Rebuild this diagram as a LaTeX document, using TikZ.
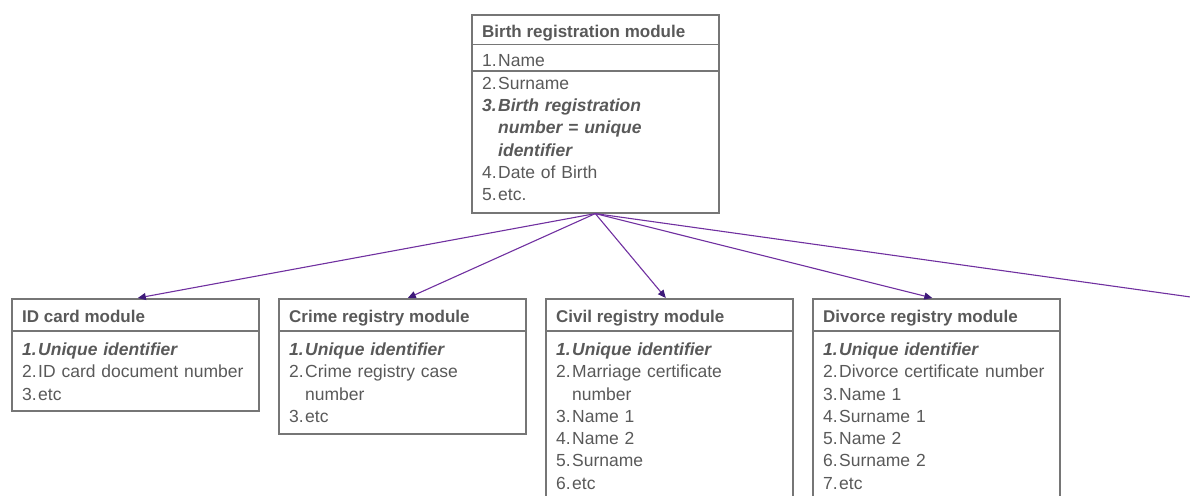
\documentclass[tikz,border=0pt]{standalone}
\usepackage{fontspec}
\setmainfont{Liberation Sans}
\usetikzlibrary{arrows.meta}

\definecolor{txt}{HTML}{595959}
\definecolor{frame}{HTML}{767676}
\definecolor{link}{HTML}{7030A0}
\definecolor{linktip}{HTML}{3E1A7A}

% numbered entry with a hanging indent
\newcommand\itm[2]{\par\noindent\hangindent=16pt\hangafter=1\strut\makebox[16pt][l]{#1}#2}
\newcommand\keyitm[2]{\itm{\textbf{\textit{#1}}}{\textbf{\textit{#2}}}}

\begin{document}
\begin{tikzpicture}[x=1pt,y=-1pt,
  module/.style={draw=frame, line width=1.6pt, anchor=north west, inner sep=0pt,
    minimum width=247pt},
  title/.style={anchor=base west, inner sep=0pt, text=txt,
    font={\fontsize{17}{20}\selectfont\bfseries}},
  fields/.style={anchor=north west, inner sep=0pt, text=txt, text width=230pt,
    align=left, font={\fontsize{17.5}{22.3}\selectfont}},
  rule/.style={draw=frame, line width=1.6pt},
  link/.style={draw=link, line width=1.1pt,
    -{Triangle[length=8pt,width=7pt,color=linktip]}}]

\clip (0,0) rectangle (1190,495);

% parent module
\node[module, minimum height=198pt] (birth) at (471,14) {};
\node[title] (birthT) at ([shift={(11,23.5)}]birth.north west) {Birth registration module};
\draw[rule] ([shift={(0,30.5)}]birth.north west) -- ([shift={(0,30.5)}]birth.north east);
\draw[rule] ([shift={(0,57)}]birth.north west) -- ([shift={(0,57)}]birth.north east);
\node[fields] (birthF) at ([shift={(11,30.4)}]birth.north west) {%
  \itm{1.}{Name}%
  \itm{2.}{Surname}%
  \keyitm{3.}{Birth registration\newline number = unique\newline identifier}%
  \itm{4.}{Date of Birth}%
  \itm{5.}{etc.}};

% child modules
\node[module, minimum height=112pt] (id) at (11,298) {};
\node[module, minimum height=135pt] (crime) at (278,298) {};
\node[module, minimum height=220pt] (civil) at (545,298) {};
\node[module, minimum height=220pt] (divorce) at (812,298) {};

\foreach \m/\t in {id/ID card module, crime/Crime registry module,
                   civil/Civil registry module, divorce/Divorce registry module}{
  \node[title] (\m T) at ([shift={(11,24)}]\m.north west) {\t};
  \draw[rule] ([shift={(0,33)}]\m.north west) -- ([shift={(0,33)}]\m.north east);
}

\node[fields] (idF) at ([shift={(11,34.9)}]id.north west) {%
  \keyitm{1.}{Unique identifier}%
  \itm{2.}{ID card document number}%
  \itm{3.}{etc}};
\node[fields] (crimeF) at ([shift={(11,34.9)}]crime.north west) {%
  \keyitm{1.}{Unique identifier}%
  \itm{2.}{Crime registry case\newline number}%
  \itm{3.}{etc}};
\node[fields] (civilF) at ([shift={(11,34.9)}]civil.north west) {%
  \keyitm{1.}{Unique identifier}%
  \itm{2.}{Marriage certificate\newline number}%
  \itm{3.}{Name 1}%
  \itm{4.}{Name 2}%
  \itm{5.}{Surname}%
  \itm{6.}{etc}};
\node[fields] (divorceF) at ([shift={(11,34.9)}]divorce.north west) {%
  \keyitm{1.}{Unique identifier}%
  \itm{2.}{Divorce certificate number}%
  \itm{3.}{Name 1}%
  \itm{4.}{Surname 1}%
  \itm{5.}{Name 2}%
  \itm{6.}{Surname 2}%
  \itm{7.}{etc}};

% links from the parent module
\coordinate (next) at (1262,307);
\draw[link] (birth.south) -- ([xshift=2.5pt]id.north);
\draw[link] (birth.south) -- ([xshift=5.5pt]crime.north);
\draw[link] (birth.south) -- ([xshift=-3.5pt]civil.north);
\draw[link] (birth.south) -- ([xshift=-4pt]divorce.north);
\draw[link] (birth.south) -- (next);
\end{tikzpicture}
\end{document}
